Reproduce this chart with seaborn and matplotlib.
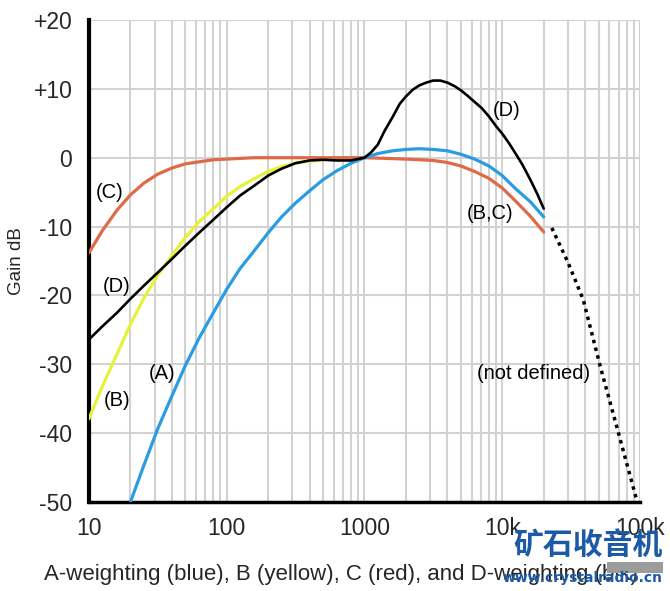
import matplotlib
matplotlib.use("Agg")
import matplotlib.pyplot as plt
from matplotlib.patches import Rectangle
import seaborn as sns

# third-octave frequencies (Hz) and gains (dB)
freq_a = [20, 25, 31.5, 40, 50, 63, 80, 100, 125, 160, 200, 250, 315, 400, 500, 630, 800,
          1000, 1250, 1600, 2000, 2500, 3150, 4000, 5000, 6300, 8000, 10000, 12500, 16000, 20000]
gain_a = [-50.0, -44.7, -39.4, -34.6, -30.2, -26.2, -22.5, -19.1, -16.1, -13.4, -10.9, -8.6, -6.6, -4.8, -3.2, -1.9, -0.8,
          0.0, 0.6, 1.0, 1.2, 1.3, 1.2, 1.0, 0.5, -0.2, -1.2, -2.6, -4.5, -6.4, -8.6]

freq_b = [10, 12.5, 16, 20, 25, 31.5, 40, 50, 63, 80, 100, 125, 160, 200, 250, 315, 400, 500, 630, 800, 1000]
gain_b = [-37.9, -33.2, -28.5, -24.2, -20.4, -17.1, -14.2, -11.6, -9.3, -7.4, -5.6, -4.2, -3.0, -2.0, -1.3, -0.8, -0.5, -0.3, -0.1, 0.0, 0.0]

freq_c = [10, 12.5, 16, 20, 25, 31.5, 40, 50, 63, 80, 100, 125, 160, 200, 500, 1000, 2000, 3150, 4000,
          5000, 6300, 8000, 10000, 12500, 16000, 20000]
gain_c = [-13.8, -10.6, -7.6, -5.4, -3.7, -2.4, -1.5, -0.9, -0.6, -0.3, -0.2, -0.1, 0.0, 0.0, 0.0, 0.0, -0.2, -0.4, -0.7,
          -1.2, -2.0, -3.0, -4.4, -6.3, -8.5, -10.8]

freq_d = [10, 12.5, 16, 20, 25, 31.5, 40, 50, 63, 80, 100, 125, 160, 200, 250, 315, 400, 500, 630, 800, 1000,
          1120, 1250, 1400, 1600, 1800, 2000, 2250, 2500, 2800, 3150, 3550, 4000, 4500, 5000, 5600, 6300, 7100,
          8000, 9000, 10000, 11200, 12500, 14000, 16000, 18000, 20000]
gain_d = [-26.4, -24.5, -22.5, -20.5, -18.6, -16.7, -14.7, -12.8, -10.9, -9.0, -7.2, -5.5, -4.0, -2.6, -1.6, -0.8, -0.4, -0.3, -0.4, -0.4, 0.0,
          0.8, 1.9, 3.9, 5.9, 7.8, 8.9, 9.9, 10.5, 10.9, 11.2, 11.2, 10.9, 10.4, 9.8, 9.0, 8.1, 7.2,
          6.0, 4.6, 3.5, 2.1, 0.6, -1.0, -3.2, -5.3, -7.4]

freq_nd = [22900, 30000, 38700, 51300, 69600, 94000]
gain_nd = [-10.2, -15.2, -20.6, -30.2, -39.9, -49.5]

ytick_vals = [20, 10, 0, -10, -20, -30, -40, -50]
ytick_text = ["+20", "+10", "0", "-10", "-20", "-30", "-40", "-50"]
xtick_vals = [10, 100, 1000, 10000, 100000]
xtick_text = ["10", "100", "1000", "10k", "100k"]

sns.set_style("white")
plt.rcParams['font.family'] = ['Liberation Sans', 'DejaVu Sans']

fig = plt.figure(figsize=(6.7, 5.91), dpi=100)
ax = fig.add_axes([0.1328, 0.1506, 0.8224, 0.8156])

ax.set_xscale('log')
ax.set_xlim(10, 100000)
ax.set_ylim(-50, 20)

sns.lineplot(x=freq_c, y=gain_c, ax=ax, color='#de6a48', lw=2.3, zorder=4)
sns.lineplot(x=freq_b, y=gain_b, ax=ax, color='#e6f23a', lw=2.3, zorder=3)
sns.lineplot(x=freq_a, y=gain_a, ax=ax, color='#2a9de2', lw=2.3, zorder=5)
sns.lineplot(x=freq_d, y=gain_d, ax=ax, color='black', lw=1.9, zorder=6)
sns.lineplot(x=freq_nd, y=gain_nd, ax=ax, color='black', lw=2.5, zorder=6,
             linestyle=(0, (1, 1.3)))

ax.grid(True, which='both', axis='x', color='#d2d2d2', lw=1.5)
ax.grid(True, which='major', axis='y', color='#d2d2d2', lw=1.5)
ax.set_axisbelow(True)

ax.set_yticks(ytick_vals)
ax.set_yticklabels(ytick_text)
ax.set_xticks(xtick_vals)
ax.set_xticklabels(xtick_text)
ax.tick_params(axis='both', which='both', length=0, labelsize=16.5)
ax.tick_params(axis='y', pad=12)
ax.tick_params(axis='x', pad=11)

for side in ['top', 'right']:
    ax.spines[side].set_visible(False)
ax.spines['left'].set_color('black')
ax.spines['left'].set_linewidth(3)
ax.spines['bottom'].set_color('black')
ax.spines['bottom'].set_linewidth(2.5)

ax.set_ylabel("Gain dB", fontsize=13.5, labelpad=6)
ax.set_xlabel("A-weighting (blue), B (yellow), C (red), and D-weighting (blk)", fontsize=16)
ax.xaxis.set_label_coords(0.458, -0.128)

lab = dict(fontsize=14.5, ha='center', va='center', color='black')
ax.text(14.2, -5.1, "(C)", **lab)
ax.text(16.0, -18.7, "(D)", **lab)
ax.text(16.0, -35.3, "(B)", **lab)
ax.text(34.0, -31.3, "(A)", **lab)
ax.text(10700, 6.8, "(D)", **lab)
ax.text(8150, -8.1, "(B,C)", **lab)
ax.text(17000, -31.3, "(not defined)", **lab)

# watermark
fig.patches.append(Rectangle((607 / 670, 18 / 591), 56 / 670, 11 / 591, transform=fig.transFigure,
                             facecolor='#9c9c9c', edgecolor='none', zorder=9))
fig.text(0.9895, 0.0787, "矿石收音机", fontsize=21.5, fontweight='bold', color='#1d5aa6',
         family=['Noto Sans CJK SC', 'DejaVu Sans'], ha='right', va='center', zorder=10)
fig.text(0.9895, 0.0228, "www.crystalradio.cn", fontsize=10, fontweight='bold', color='#1d5aa6',
         family=['DejaVu Sans'], ha='right', va='center', zorder=10)

fig.savefig("out.png", dpi=100)
